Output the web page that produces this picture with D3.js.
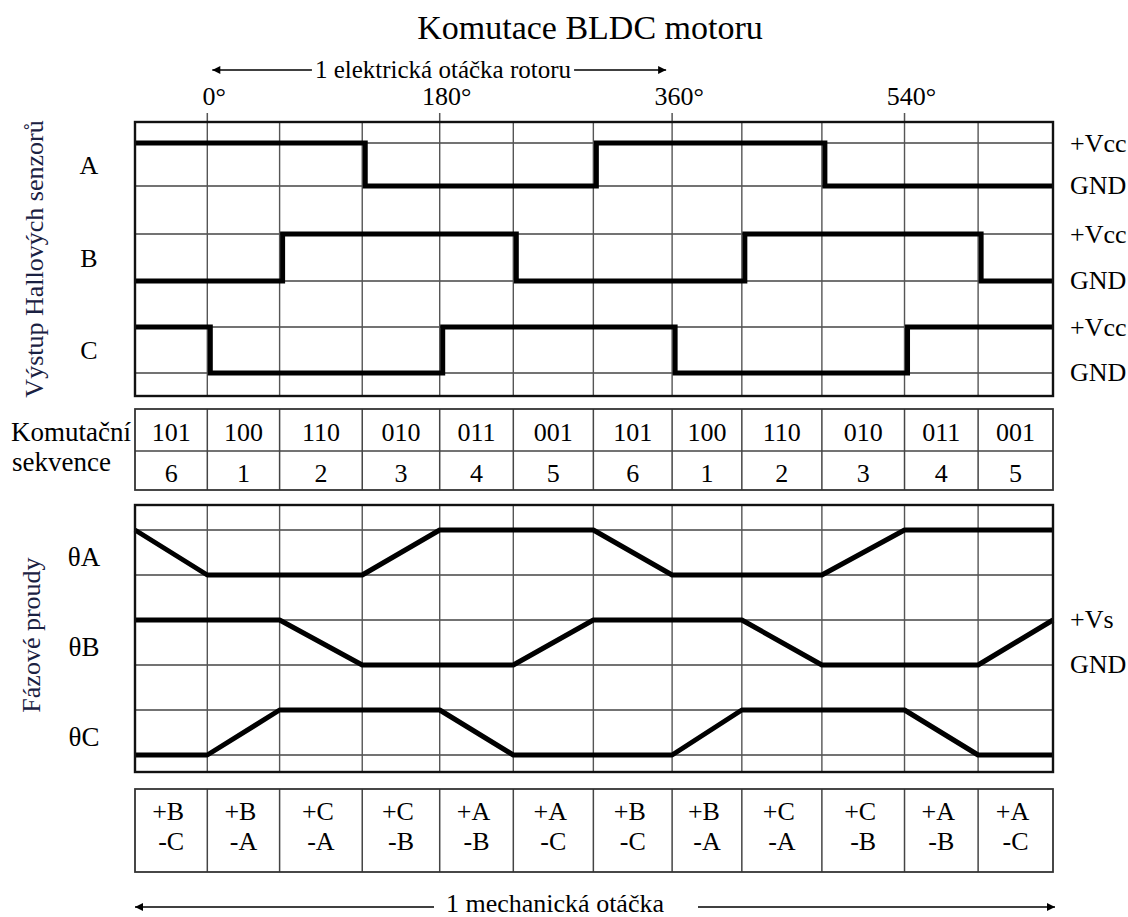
<!DOCTYPE html>
<html><head><meta charset="utf-8">
<script src="https://cdn.jsdelivr.net/npm/d3@7"></script>
<style>
html,body{margin:0;padding:0;background:#fff;}
svg text{font-family:"Liberation Serif","Times New Roman",serif;fill:#000;}
</style></head>
<body><svg id="c" width="1128" height="917"></svg>
<script>
// ---- data ----
const boundariesDeg = [-56, 0, 56, 120, 180, 237, 299, 360, 414, 476, 540, 597, 655];
const degreeTicks = [0, 180, 360, 540];
const hallCodes = ["101","100","110","010","011","001","101","100","110","010","011","001"];
const stepNumbers = [6,1,2,3,4,5,6,1,2,3,4,5];
const hallA = [1,1,1,0,0,0,1,1,1,0,0,0];
const hallB = [0,0,1,1,1,0,0,0,1,1,1,0];
const hallC = [1,0,0,0,1,1,1,0,0,0,1,1];
const phaseA = [1,0,0,0,1,1,1,0,0,0,1,1,1];
const phaseB = [1,1,1,0,0,0,1,1,1,0,0,0,1];
const phaseC = [0,0,1,1,1,0,0,0,1,1,1,0,0];
const plusPhase = ["+B","+B","+C","+C","+A","+A","+B","+B","+C","+C","+A","+A"];
const minusPhase = ["-C","-A","-A","-B","-B","-C","-C","-A","-A","-B","-B","-C"];
const hallNames = ["A","B","C"];
const phaseNames = ["θA","θB","θC"];

// ---- layout ----
const svg = d3.select("#c");
const x = d3.scaleLinear().domain([boundariesDeg[0], boundariesDeg[boundariesDeg.length-1]]).range([135, 1053]);
const L = 135, R = 1053;
const FS = 26;
const NAVY = "#1a2142";

// Title
svg.append("text").attr("x", 590).attr("y", 39).attr("text-anchor","middle")
  .style("font-size","34px").text("Komutace BLDC motoru");

// arrow marker
const defs = svg.append("defs");
defs.append("marker").attr("id","ah").attr("viewBox","0 0 10 10").attr("refX",10).attr("refY",5)
  .attr("markerWidth",12).attr("markerHeight",8).attr("markerUnits","userSpaceOnUse").attr("orient","auto-start-reverse")
  .append("path").attr("d","M0,0 L10,5 L0,10 z").attr("fill","#000");

function arrowLabel(x0, x1, cx, y, ty, label, fs, gapL, gapR) {
  const t = svg.append("text").attr("x", cx).attr("y", ty).attr("text-anchor","middle")
    .style("font-size", fs + "px").text(label);
  const w = t.node().getComputedTextLength();
  svg.append("line").attr("x1", cx - w/2 - gapL).attr("x2", x0).attr("y1", y).attr("y2", y)
    .attr("stroke","#000").attr("stroke-width",1.3).attr("marker-end","url(#ah)");
  svg.append("line").attr("x1", cx + w/2 + gapR).attr("x2", x1).attr("y1", y).attr("y2", y)
    .attr("stroke","#000").attr("stroke-width",1.3).attr("marker-end","url(#ah)");
}
arrowLabel(x(0) + 5, x(360) - 6, 443, 70, 78, "1 elektrická otáčka rotoru", 25, 3, 3);

// degree labels + ticks
degreeTicks.forEach(d => {
  svg.append("text").attr("x", x(d) + 7).attr("y", 105).attr("text-anchor","middle")
    .style("font-size", FS + "px").text(d + "°");
  svg.append("line").attr("x1", x(d)).attr("x2", x(d)).attr("y1", 113).attr("y2", 122)
    .attr("stroke","#555").attr("stroke-width",1.5);
});

function panel(top, bottom, levels) {
  const g = svg.append("g");
  levels.forEach(yv => g.append("line").attr("x1", L).attr("x2", R).attr("y1", yv).attr("y2", yv)
    .attr("stroke","#444").attr("stroke-width",1.3));
  boundariesDeg.slice(1, -1).forEach(d => g.append("line").attr("x1", x(d)).attr("x2", x(d))
    .attr("y1", top).attr("y2", bottom).attr("stroke","#555").attr("stroke-width",1.4));
  return g;
}
function border(top, bottom) {
  svg.append("rect").attr("x", L).attr("y", top).attr("width", R - L).attr("height", bottom - top)
    .attr("fill","none").attr("stroke","#111").attr("stroke-width",2.4);
}

// ---- Hall sensor panel ----
const hallTop = 122, hallBottom = 396;
const hallLevels = [[186,143],[281,234],[373,327]];
panel(hallTop, hallBottom, hallLevels.flat());
[hallA, hallB, hallC].forEach((arr, k) => {
  const y = d3.scaleLinear().domain([0,1]).range(hallLevels[k]);
  const pts = arr.map((v,i) => [x(boundariesDeg[i]) + (i > 0 ? 3 : 0), y(v)]);
  pts.push([x(boundariesDeg[boundariesDeg.length-1]), y(arr[arr.length-1])]);
  svg.append("path").attr("d", d3.line().curve(d3.curveStepAfter)(pts))
    .attr("fill","none").attr("stroke","#000").attr("stroke-width",5).attr("stroke-linejoin","miter");
  svg.append("text").attr("x", 89).attr("y", (hallLevels[k][0] + hallLevels[k][1]) / 2 + 9)
    .attr("text-anchor","middle").style("font-size", FS + "px").text(hallNames[k]);
  svg.append("text").attr("x", 1070).attr("y", hallLevels[k][1] + 9).style("font-size", FS + "px").text("+Vcc");
  svg.append("text").attr("x", 1070).attr("y", hallLevels[k][0] + 8).style("font-size", FS + "px").text("GND");
});
border(hallTop, hallBottom);
svg.append("text").attr("transform", "translate(43,259) rotate(-90)").attr("text-anchor","middle")
  .style("font-size","26px").style("fill",NAVY).text("Výstup Hallových senzorů");

// ---- Commutation table ----
const t1Top = 409, t1Mid = 451, t1Bot = 490;
const tg = svg.append("g");
tg.append("line").attr("x1", L).attr("x2", R).attr("y1", t1Mid).attr("y2", t1Mid).attr("stroke","#444").attr("stroke-width",1.5);
boundariesDeg.slice(1,-1).forEach(d => tg.append("line").attr("x1", x(d)).attr("x2", x(d))
  .attr("y1", t1Top).attr("y2", t1Bot).attr("stroke","#444").attr("stroke-width",1.5));
tg.append("rect").attr("x", L).attr("y", t1Top).attr("width", R-L).attr("height", t1Bot-t1Top)
  .attr("fill","none").attr("stroke","#333").attr("stroke-width",1.8);
hallCodes.forEach((c,i) => {
  const cx = (x(boundariesDeg[i]) + x(boundariesDeg[i+1])) / 2;
  tg.append("text").attr("x", cx).attr("y", 441).attr("text-anchor","middle").style("font-size", FS + "px").text(c);
  tg.append("text").attr("x", cx).attr("y", 482).attr("text-anchor","middle").style("font-size", FS + "px").text(stepNumbers[i]);
});
svg.append("text").attr("x", 11).attr("y", 441).style("font-size", "27px").text("Komutační");
svg.append("text").attr("x", 12).attr("y", 471).style("font-size", "27px").text("sekvence");

// ---- Phase current panel ----
const phTop = 505, phBottom = 772;
const phLevels = [[575,530],[665,620],[755,710]];
panel(phTop, phBottom, phLevels.flat());
[phaseA, phaseB, phaseC].forEach((arr, k) => {
  const y = d3.scaleLinear().domain([0,1]).range(phLevels[k]);
  const pts = arr.map((v,i) => [x(boundariesDeg[i]), y(v)]);
  svg.append("path").attr("d", d3.line()(pts))
    .attr("fill","none").attr("stroke","#000").attr("stroke-width",5).attr("stroke-linejoin","round");
  svg.append("text").attr("x", 84).attr("y", (phLevels[k][0] + phLevels[k][1]) / 2 + 13)
    .attr("text-anchor","middle").style("font-size", "27px").text(phaseNames[k]);
});
border(phTop, phBottom);
svg.append("text").attr("x", 1070).attr("y", 628).style("font-size", FS + "px").text("+Vs");
svg.append("text").attr("x", 1070).attr("y", 673).style("font-size", FS + "px").text("GND");
svg.append("text").attr("transform", "translate(40,635) rotate(-90)").attr("text-anchor","middle")
  .style("font-size","26px").style("fill",NAVY).text("Fázové proudy");

// ---- Energized phases table ----
const t2Top = 789, t2Bot = 872;
const bg = svg.append("g");
boundariesDeg.slice(1,-1).forEach(d => bg.append("line").attr("x1", x(d)).attr("x2", x(d))
  .attr("y1", t2Top).attr("y2", t2Bot).attr("stroke","#444").attr("stroke-width",1.5));
bg.append("rect").attr("x", L).attr("y", t2Top).attr("width", R-L).attr("height", t2Bot-t2Top)
  .attr("fill","none").attr("stroke","#333").attr("stroke-width",1.8);
plusPhase.forEach((p,i) => {
  const cx = (x(boundariesDeg[i]) + x(boundariesDeg[i+1])) / 2;
  bg.append("text").attr("x", cx - 3).attr("y", 820).attr("text-anchor","middle").style("font-size", FS + "px").text(p);
  bg.append("text").attr("x", cx).attr("y", 850).attr("text-anchor","middle").style("font-size", FS + "px").text(minusPhase[i]);
});

arrowLabel(L, R + 2, 555, 907, 912, "1 mechanická otáčka", 26, 12, 34);
</script></body></html>
